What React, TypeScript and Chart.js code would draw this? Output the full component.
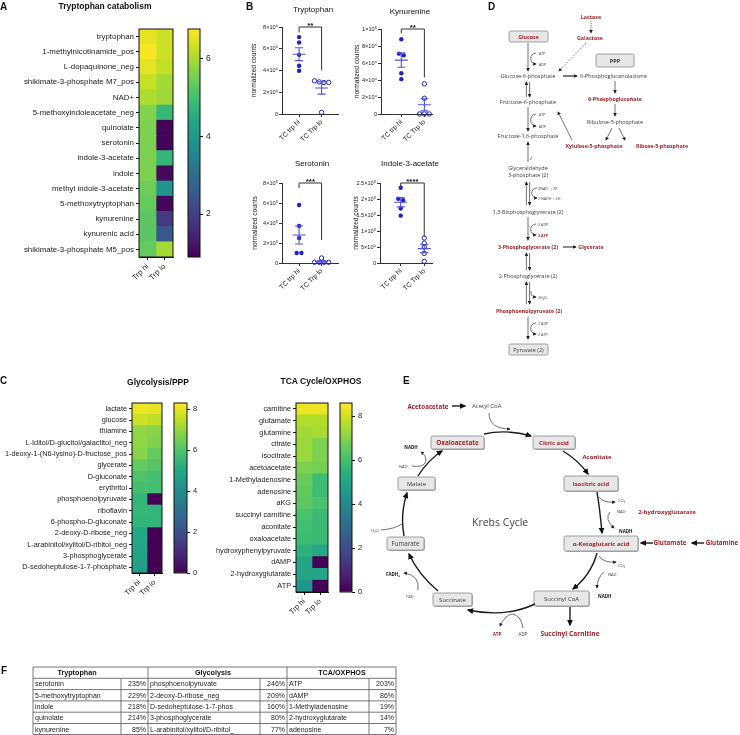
import React, { useEffect, useRef } from 'react';
import { Chart, registerables } from 'chart.js';

Chart.register(...registerables);
const SANS = '"Liberation Sans", Arial, Helvetica, sans-serif';
const DIAG = '"Open Sans", "Noto Sans", "DejaVu Sans", sans-serif';
Chart.defaults.font.family = SANS;
Chart.defaults.color = '#222';

// ---------------- DATA ----------------
const heatGroups = ['Trp hi', 'Trp lo'];

const trpRows = ['tryptophan', '1-methylnicotinamide_pos', 'L-dopaquinone_neg', 'shikimate-3-phosphate M7_pos', 'NAD+', '5-methoxyindoleacetate_neg', 'quinolate', 'serotonin', 'indole-3-acetate', 'indole', 'methyl indole-3-acetate', '5-methoxytryptophan', 'kynurenine', 'kynurenic acid', 'shikimate-3-phosphate M5_pos'];
const trpHi = [6.55, 6.7, 6.5, 6.25, 6.05, 5.65, 5.6, 5.6, 5.6, 5.6, 5.45, 5.35, 5.25, 5.25, 5.35];
const trpLo = [6.3, 6.3, 6.2, 5.95, 5.9, 4.8, 0.95, 0.95, 4.75, 1.05, 3.9, 1.0, 1.9, 2.5, 5.95];
const trpRange = [0.9, 6.75];
const trpBarTicks = [2, 4, 6];

const glyRows = ['lactate', 'glucose', 'thiamine', 'L-Iditol/D-glucitol/galactitol_neg', '1-deoxy-1-(N6-lysino)-D-fructose_pos', 'glycerate', 'D-gluconate', 'erythritol', 'phosphoenolpyruvate', 'riboflavin', '6-phospho-D-gluconate', '2-deoxy-D-ribose_neg', 'L-arabinitol/xylitol/D-ribitol_neg', '3-phosphoglycerate', 'D-sedoheptulose-1-7-phosphate'];
const glyHi = [8.05, 7.7, 6.9, 6.9, 6.8, 6.3, 6.0, 5.8, 5.4, 5.5, 5.4, 5.0, 4.9, 4.8, 4.7];
const glyLo = [8.0, 7.5, 6.8, 6.7, 6.3, 6.1, 5.8, 5.8, 0.05, 5.4, 5.4, 0.0, 0.0, 0.0, 0.0];
const glyRange = [0, 8.3];

const tcaRows = ['carnitine', 'glutamate', 'glutamine', 'citrate', 'isocitrate', 'acetoacetate', '1-Methyladenosine', 'adenosine', 'aKG', 'succinyl carnitine', 'aconitate', 'oxaloacetate', 'hydroxyphenylpyruvate', 'dAMP', '2-hydroxyglutarate', 'ATP'];
const tcaHi = [8.35, 7.6, 7.4, 7.3, 7.3, 6.9, 6.6, 6.5, 6.4, 6.1, 6.0, 5.9, 5.5, 5.0, 5.0, 4.5];
const tcaLo = [8.35, 7.6, 7.5, 6.9, 6.9, 6.8, 5.9, 5.9, 6.1, 5.8, 5.8, 5.8, 5.2, 0.05, 5.1, 0.05];
const tcaRange = [0, 8.6];
const cBarTicks = [0, 2, 4, 6, 8];

const bGroups = ['TC trp hi', 'TC Trp lo'];
const bTitles = ['Tryptophan', 'Kynurenine', 'Serotonin', 'Indole-3-acetate'];
const trpHiCounts = [7.07e6, 6.57e6, 5.44e6, 4.44e6, 3.98e6];
const trpLoCounts = [3.05e6, 2.95e6, 2.9e6, 2.9e6, 0.15e6];
const kynHiCounts = [8.8e4, 7.1e4, 6.9e4, 4.8e4, 4.1e4];
const kynLoCounts = [3.55e4, 1.85e4, 0, 0, 0];
const serHiCounts = [5.8e5, 3.7e5, 2.5e5, 1.0e5, 1.0e5];
const serLoCounts = [0.5e5, 0.07e5, 0.07e5, 0.07e5, 0.07e5];
const iaaHiCounts = [2.35e5, 2.01e5, 1.96e5, 1.7e5, 1.48e5];
const iaaLoCounts = [0.78e5, 0.62e5, 0.5e5, 0.3e5, 0.05e5];
const bHi = [trpHiCounts, kynHiCounts, serHiCounts, iaaHiCounts];
const bLo = [trpLoCounts, kynLoCounts, serLoCounts, iaaLoCounts];
const bYMax = [8e6, 1e5, 8e5, 2.5e5];
const bYStep = [2e6, 2e4, 2e5, 5e4];
const bStars = ['**', '**', '***', '****'];
const bBracketL = [7.5e6, 9.5e4, 7.5e5, 2.4e5];
const bBracketR = [4.05e6, 4.3e4, 2.3e5, 0.81e5];

const tblTrp = ['serotonin', '5-methoxytryptophan', 'indole', 'quinolate', 'kynurenine'];
const tblTrpPct = ['235%', '229%', '218%', '214%', '85%'];
const tblGly = ['phosphoenolpyruvate', '2-deoxy-D-ribose_neg', 'D-sedoheptulose-1-7-phos', '3-phosphoglycerate', 'L-arabinitol/xylitol/D-ribitol_'];
const tblGlyPct = ['246%', '209%', '160%', '80%', '77%'];
const tblTca = ['ATP', 'dAMP', '1-Methyladenosine', '2-hydroxyglutarate', 'adenosine'];
const tblTcaPct = ['203%', '86%', '19%', '14%', '7%'];

// ---------------- helpers ----------------
const RED = '#a3232b';
const DOT = '#2222c2';
const SEMC = '#5252dc';
const VIRIDIS = ['#440154', '#482475', '#414487', '#355f8d', '#2a788e', '#21918c', '#22a884', '#44bf70', '#7ad151', '#bddf26', '#fde725'];

function hex(h: string) {
  return [parseInt(h.slice(1, 3), 16), parseInt(h.slice(3, 5), 16), parseInt(h.slice(5, 7), 16)];
}
function viridis(t: number) {
  const c = Math.max(0, Math.min(1, t)) * 10;
  const i = Math.min(9, Math.floor(c));
  const f = c - i;
  const a = hex(VIRIDIS[i]);
  const b = hex(VIRIDIS[i + 1]);
  const m = a.map((v, k) => Math.round(v + (b[k] - v) * f));
  return `rgb(${m[0]},${m[1]},${m[2]})`;
}
function sciLabel(v: number) {
  if (Math.abs(v) < 1e-9) return '0';
  const e = Math.floor(Math.log10(v) + 1e-9);
  const m = +(v / Math.pow(10, e)).toFixed(2);
  const sup = '⁰¹²³⁴⁵⁶⁷⁸⁹';
  return `${m}×10${String(e).split('').map((d) => sup[+d]).join('')}`;
}

const frame = (lw = 1) => ({
  id: 'frame',
  afterDatasetsDraw(chart: any) {
    const { ctx, chartArea: a } = chart;
    ctx.save();
    ctx.strokeStyle = '#111';
    ctx.lineWidth = lw;
    ctx.strokeRect(a.left, a.top, a.right - a.left, a.bottom - a.top);
    ctx.restore();
  },
});

function heatmapConfig(rows: string[], hi: number[], lo: number[], range: number[], g: any) {
  const col = (v: number) => viridis((v - range[0]) / (range[1] - range[0]));
  return {
    type: 'bar',
    data: {
      labels: rows,
      datasets: [
        { label: heatGroups[0], data: rows.map(() => 1), backgroundColor: hi.map(col) },
        { label: heatGroups[1], data: rows.map(() => 1), backgroundColor: lo.map(col) },
      ],
    },
    options: {
      indexAxis: 'y',
      animation: false,
      responsive: false,
      devicePixelRatio: 1,
      layout: { padding: { left: 0, top: g.padTop, right: g.padRight, bottom: 0 } },
      datasets: { bar: { barPercentage: 1, categoryPercentage: 1, borderWidth: 0 } },
      plugins: { legend: { display: false }, tooltip: { enabled: false } },
      scales: {
        x: {
          stacked: true, min: 0, max: 2,
          afterBuildTicks: (s: any) => { s.ticks = [{ value: 0.5 }, { value: 1.5 }]; },
          ticks: { callback: (v: number) => heatGroups[Math.floor(v)], minRotation: 45, maxRotation: 45, font: { size: g.xFont }, color: '#222', padding: 2 },
          grid: { drawOnChartArea: false, tickLength: 3, color: '#111' },
          border: { color: '#111' },
          afterFit: (s: any) => { s.height = g.xAxisH; },
        },
        y: {
          stacked: true,
          ticks: { font: { size: g.rowFont }, color: '#222', padding: 2, autoSkip: false },
          grid: { drawOnChartArea: false, offset: false, tickLength: 3, color: '#111' },
          border: { color: '#111' },
          afterFit: (s: any) => { s.width = g.yAxisW; },
        },
      },
    },
    plugins: [frame(1)],
  };
}

function colorbarConfig(range: number[], ticks: number[], g: any) {
  return {
    type: 'bar',
    data: {
      labels: [''],
      datasets: [{
        data: [[range[0], range[1]]],
        borderWidth: 0,
        backgroundColor: (c: any) => {
          const chart = c.chart;
          if (!chart.chartArea) return '#888';
          const y = chart.scales.y;
          const gr = chart.ctx.createLinearGradient(0, y.getPixelForValue(range[0]), 0, y.getPixelForValue(range[1]));
          VIRIDIS.forEach((col, i) => gr.addColorStop(i / 10, col));
          return gr;
        },
      }],
    },
    options: {
      animation: false,
      responsive: false,
      devicePixelRatio: 1,
      layout: { padding: { left: g.padLeft, right: g.padRight, top: g.padTop, bottom: g.padBottom } },
      datasets: { bar: { barPercentage: 1, categoryPercentage: 1 } },
      plugins: { legend: { display: false }, tooltip: { enabled: false } },
      scales: {
        x: { display: false },
        y: {
          position: 'right', min: range[0], max: range[1],
          afterBuildTicks: (s: any) => { s.ticks = ticks.map((v) => ({ value: v })); },
          ticks: { font: { size: g.font }, color: '#222', padding: 3 },
          grid: { drawOnChartArea: false, tickLength: 3, color: '#111' },
          border: { display: false },
          afterFit: (s: any) => { s.width = g.axisW; },
        },
      },
    },
    plugins: [frame(1)],
  };
}

function swarm(vals: number[], ymax: number) {
  const idx = vals.map((_, i) => i).sort((a, b) => vals[b] - vals[a]);
  const off = vals.map(() => 0);
  let cl = [idx[0]];
  const flush = () => cl.forEach((k, j) => { off[k] = (j - (cl.length - 1) / 2) * 0.21; });
  for (let j = 1; j < idx.length; j++) {
    if (vals[idx[j - 1]] - vals[idx[j]] < ymax * 0.035) cl.push(idx[j]);
    else { flush(); cl = [idx[j]]; }
  }
  flush();
  return off;
}

const bLayout = [
  { left: 250, top: 0, w: 95, h: 150, yAxisW: 32, padTop: 27, padRight: 7, xAxisH: 36, xMin: -0.76, xMax: 1.73, titlePad: 0 },
  { left: 350, top: 0, w: 90, h: 150, yAxisW: 31, padTop: 29, padRight: 8, xAxisH: 36, xMin: -0.88, xMax: 1.33, titlePad: 3 },
  { left: 250, top: 140, w: 95, h: 155, yAxisW: 32, padTop: 43, padRight: 7, xAxisH: 32, xMin: -0.76, xMax: 1.73, titlePad: 1 },
  { left: 350, top: 140, w: 90, h: 155, yAxisW: 30, padTop: 43, padRight: 8, xAxisH: 32, xMin: -0.88, xMax: 1.33, titlePad: 2 },
];

function statsPlugin(k: number) {
  return {
    id: 'stats',
    afterDatasetsDraw(chart: any) {
      const { ctx, scales: { x, y } } = chart;
      ctx.save();
      ctx.strokeStyle = SEMC;
      ctx.lineWidth = 1.1;
      [bHi[k], bLo[k]].forEach((vals, g) => {
        const n = vals.length;
        const m = vals.reduce((a, b) => a + b, 0) / n;
        const sd = Math.sqrt(vals.reduce((a, b) => a + (b - m) * (b - m), 0) / (n - 1));
        const se = sd / Math.sqrt(n);
        const cx = x.getPixelForValue(g);
        const ym = y.getPixelForValue(m);
        const y1 = y.getPixelForValue(Math.max(0, m - se));
        const y2 = y.getPixelForValue(m + se);
        ctx.beginPath();
        ctx.moveTo(cx - 6.5, ym); ctx.lineTo(cx + 6.5, ym);
        ctx.moveTo(cx, y1); ctx.lineTo(cx, y2);
        ctx.moveTo(cx - 4, y1); ctx.lineTo(cx + 4, y1);
        ctx.moveTo(cx - 4, y2); ctx.lineTo(cx + 4, y2);
        ctx.stroke();
      });
      const xl = x.getPixelForValue(0);
      const xr = x.getPixelForValue(1);
      const yt = y.getPixelForValue(bYMax[k]);
      ctx.strokeStyle = '#333';
      ctx.lineWidth = 1;
      ctx.beginPath();
      ctx.moveTo(xl, y.getPixelForValue(bBracketL[k]));
      ctx.lineTo(xl, yt);
      ctx.lineTo(xr, yt);
      ctx.lineTo(xr, y.getPixelForValue(bBracketR[k]));
      ctx.stroke();
      ctx.fillStyle = '#111';
      ctx.font = `bold 8px ${SANS}`;
      ctx.textAlign = 'center';
      ctx.textBaseline = 'alphabetic';
      ctx.fillText(bStars[k], (xl + xr) / 2, yt + 0.5);
      ctx.restore();
    },
  };
}

function scatterConfig(k: number) {
  const L = bLayout[k];
  const ymax = bYMax[k];
  const datasets = [bHi[k], bLo[k]].map((vals, g) => {
    const off = swarm(vals, ymax);
    return {
      label: bGroups[g],
      data: vals.map((v, i) => ({ x: g + off[i], y: v })),
      pointRadius: 2.2,
      pointHoverRadius: 2.2,
      pointBackgroundColor: g === 0 ? DOT : 'rgba(255,255,255,0)',
      pointBorderColor: DOT,
      pointBorderWidth: g === 0 ? 0 : 1,
      clip: false,
    };
  });
  return {
    type: 'scatter',
    data: { datasets },
    options: {
      animation: false,
      responsive: false,
      devicePixelRatio: 1,
      layout: { padding: { left: 0, top: L.padTop, right: L.padRight, bottom: 0 } },
      plugins: { legend: { display: false }, tooltip: { enabled: false } },
      scales: {
        x: {
          type: 'linear', min: L.xMin, max: L.xMax,
          afterBuildTicks: (s: any) => { s.ticks = [{ value: 0 }, { value: 1 }]; },
          ticks: { callback: (v: number) => bGroups[v], minRotation: 45, maxRotation: 45, font: { size: 6.8 }, color: '#222', padding: 1 },
          grid: { drawOnChartArea: false, tickLength: 3, color: '#333' },
          border: { color: '#333' },
          afterFit: (s: any) => { s.height = L.xAxisH; },
        },
        y: {
          min: 0, max: ymax,
          ticks: { stepSize: bYStep[k], callback: (v: number) => sciLabel(v), font: { size: 5.6 }, color: '#222', padding: 1 },
          grid: { drawOnChartArea: false, tickLength: 3, color: '#333' },
          border: { color: '#333' },
          title: { display: true, text: 'normalized counts', font: { size: 6.6 }, color: '#222', padding: { top: L.titlePad, bottom: 0 } },
          afterFit: (s: any) => { s.width = L.yAxisW; },
        },
      },
    },
    plugins: [statsPlugin(k)],
  };
}

function ChartCanvas({ left, top, width, height, make }: any) {
  const ref = useRef<HTMLCanvasElement>(null);
  useEffect(() => {
    const chart = new Chart(ref.current as HTMLCanvasElement, make());
    return () => chart.destroy();
  }, []);
  return <canvas ref={ref} width={width} height={height} style={{ position: 'absolute', left, top, width, height }} />;
}

// ---------------- SVG overlay ----------------
const Tx = ({ x, y, s = 5.5, w = 400, c = '#3a3a3a', a = 'middle', f = DIAG, children }: any) => (
  <text x={x} y={y} fontSize={s} fontWeight={w} fill={c} textAnchor={a} dominantBaseline="central" fontFamily={f}>{children}</text>
);
const Box = ({ x1, y1, x2, y2, shadow = false }: any) => (
  <g>
    {shadow && <rect x={x1 + 0.9} y={y1 + 0.9} width={x2 - x1} height={y2 - y1} rx={1.8} fill="#b0b0b0" />}
    <rect x={x1} y={y1} width={x2 - x1} height={y2 - y1} rx={1.8} fill="#e7e7e7" stroke="#8a8a8a" strokeWidth={0.8} />
  </g>
);
const thin = { stroke: '#333', strokeWidth: 0.7, fill: 'none', markerEnd: 'url(#hs)' };
const thick = { stroke: '#1a1a1a', strokeWidth: 1.4, fill: 'none', markerEnd: 'url(#hl)' };
const Dbl = ({ x, y1, y2 }: any) => (
  <g>
    <path d={`M${x - 1.6},${y2} L${x - 1.6},${y1}`} {...thin} />
    <path d={`M${x + 1.6},${y1} L${x + 1.6},${y2}`} {...thin} />
  </g>
);
const Side = ({ x, y1, y2 }: any) => (
  <path d={`M${x + 8},${y1} C${x + 1},${y1} ${x + 1},${y2} ${x + 8},${y2}`} {...thin} />
);

function PanelD() {
  const rb = { s: 5.3, w: 700, c: RED };
  const sm = { s: 3.7, a: 'start' };
  return (
    <g>
      <Tx x={591} y={17} {...rb}>Lactose</Tx>
      <path d="M591,21 L591,33" {...thin} strokeDasharray="1,1" />
      <Tx x={590} y={38} {...rb}>Galactose</Tx>
      <Box x1={509} y1={31} x2={548} y2={42} />
      <Tx x={528.5} y={36.7} {...rb}>Glucose</Tx>
      <path d="M528,43 L528,71" {...thin} />
      <Side x={528} y1={53} y2={64} />
      <Tx x={539} y={53} {...sm}>ATP</Tx>
      <Tx x={539} y={64.5} {...sm}>ADP</Tx>
      <Tx x={528} y={76}>Glucose-6-phosphate</Tx>
      <path d="M586,43 L559,71" {...thin} strokeDasharray="1.2,1.2" />
      <path d="M563,76 L577,76" {...thin} strokeWidth={1.3} />
      <Tx x={580} y={76} a="start">6-Phosphogluconolactone</Tx>
      <Box x1={596} y1={54} x2={634} y2={67} />
      <Tx x={615} y={60.7} s={5.5} w={700} c="#333">PPP</Tx>
      <path d="M615,81 L615,93" {...thin} />
      <Tx x={615} y={99} {...rb}>6-Phosphogluconate</Tx>
      <path d="M615,104 L615,116" {...thin} />
      <Tx x={615} y={122}>Ribulose-5-phosphate</Tx>
      <path d="M612,128 L606,140" {...thin} />
      <path d="M619,128 L625,140" {...thin} />
      <Tx x={594} y={146} {...rb}>Xylulose-5-phosphate</Tx>
      <Tx x={662} y={146} {...rb}>Ribose-5-phosphate</Tx>
      <path d="M572,140 L558,112" {...thin} />
      <Dbl x={528} y1={82} y2={97} />
      <Tx x={528} y={102}>Fructose-6-phosphate</Tx>
      <path d="M528,107 L528,131" {...thin} />
      <Side x={528} y1={114} y2={126} />
      <Tx x={539} y={114} {...sm}>ATP</Tx>
      <Tx x={539} y={126} {...sm}>ADP</Tx>
      <Tx x={528} y={136}>Fructose-1,6-phosphate</Tx>
      <path d="M528,162 L528,142" {...thin} />
      <path d="M530,160 L532,157" stroke="#333" strokeWidth={0.6} />
      <Tx x={528} y={168}>Glyceraldehyde</Tx>
      <Tx x={528} y={175}>3-phosphate (2)</Tx>
      <Dbl x={528} y1={182} y2={205} />
      <Side x={529} y1={188} y2={198} />
      <Tx x={538} y={188} {...sm}>2NAD⁺ + 2Pᵢ</Tx>
      <Tx x={538} y={198} {...sm}>2 NADH + 2H⁺</Tx>
      <Tx x={528} y={212}>1,3-Bisphosphoglycerate (2)</Tx>
      <path d="M528,217 L528,240" {...thin} />
      <Side x={528} y1={224} y2={235} />
      <Tx x={538} y={224} {...sm}>2 ADP</Tx>
      <Tx x={538} y={235} {...sm} c={RED} w={700}>2 ATP</Tx>
      <Tx x={528} y={247} {...rb}>3-Phosphoglycerate (2)</Tx>
      <path d="M563,247 L576,247" {...thin} strokeWidth={1.1} />
      <Tx x={591} y={247} {...rb}>Glycerate</Tx>
      <Dbl x={528} y1={253} y2={270} />
      <Tx x={528} y={276}>2-Phosphoglycerate (2)</Tx>
      <Dbl x={528} y1={282} y2={304} />
      <path d="M531,291 C531,295 532,297 536,297" {...thin} />
      <Tx x={538} y={297} {...sm}>2H₂O</Tx>
      <Tx x={529} y={311} {...rb}>Phosphoenolpyruvate (2)</Tx>
      <path d="M528,317 L528,339" {...thin} />
      <Side x={528} y1={323} y2={334} />
      <Tx x={538} y={323} {...sm}>2 ADP</Tx>
      <Tx x={538} y={334} {...sm}>2 ATP</Tx>
      <Box x1={509} y1={344} x2={548} y2={355} />
      <Tx x={528.5} y={349.7}>Pyruvate (2)</Tx>
    </g>
  );
}

function PanelE() {
  const rb = { w: 700, c: RED };
  const sm = { s: 4, a: 'start' };
  return (
    <g>
      <Tx x={428} y={406} s={6.2} {...rb}>Acetoacetate</Tx>
      <path d="M452,406 L465,406" {...thick} />
      <Tx x={472} y={406} s={6} a="start">Acetyl CoA</Tx>
      <path d="M489,413 C489,424 497,429 510,429" {...thin} />
      <Box x1={431} y1={436} x2={484} y2={449} shadow />
      <Tx x={457.5} y={442.7} s={6.4} {...rb}>Oxaloacetate</Tx>
      <path d="M484,434 Q507,429 531,436" {...thick} />
      <Box x1={533} y1={436} x2={575} y2={449} shadow />
      <Tx x={554} y={442.7} s={6} {...rb}>Citric acid</Tx>
      <path d="M563,451 Q578,460 588,474" {...thick} />
      <Tx x={597} y={457} s={6} {...rb}>Aconitate</Tx>
      <Box x1={564} y1={476} x2={618} y2={491} shadow />
      <Tx x={591} y={483.7} s={5.8} {...rb}>Isocitric acid</Tx>
      <path d="M597,492 Q600,510 602,533" {...thick} />
      <path d="M599,497 Q603,503 615,502" {...thin} />
      <Tx x={618} y={500} {...sm}>CO₂</Tx>
      <Tx x={617} y={511} {...sm}>NAD⁺</Tx>
      <path d="M610,512 Q604,519 614,528" {...thin} />
      <Tx x={619} y={531} s={4.5} w={700} c="#111" a="start">NADH</Tx>
      <Tx x={667} y={512} s={6} {...rb}>2-hydroxyglutarate</Tx>
      <Box x1={564} y1={536} x2={638} y2={551} shadow />
      <Tx x={601} y={543.7} s={6} {...rb}>α-Ketoglutaric acid</Tx>
      <path d="M653,543 L641,543" {...thick} />
      <Tx x={670} y={542} s={6.2} {...rb}>Glutamate</Tx>
      <path d="M704,543 L692,543" {...thick} />
      <Tx x={722} y={542} s={6.2} {...rb}>Glutamine</Tx>
      <path d="M597,553 Q591,575 573,589" {...thick} />
      <path d="M599,556 Q603,563 616,562" {...thin} />
      <Tx x={618} y={565} {...sm}>CO₂</Tx>
      <Tx x={608} y={574} {...sm}>NAD⁺</Tx>
      <path d="M604,572 Q597,578 597,588" {...thin} />
      <Tx x={598} y={596} s={4.5} w={700} c="#111" a="start">NADH</Tx>
      <Box x1={534} y1={591} x2={589} y2={606} shadow />
      <Tx x={561.5} y={598.7} s={6}>Succinyl CoA</Tx>
      <path d="M570,607 L570,625" {...thick} />
      <Tx x={570} y={633} s={6.6} {...rb}>Succinyl Carnitine</Tx>
      <path d="M535,604 Q505,618 468,610" {...thick} />
      <path d="M523,628 Q521,615 512,614 Q505,615 500,626" {...thin} />
      <Tx x={497} y={634} s={4.6} {...rb}>ATP</Tx>
      <Tx x={523} y={634} s={4.6}>ADP</Tx>
      <Box x1={433} y1={593} x2={472} y2={606} shadow />
      <Tx x={452.5} y={599.7} s={6}>Succinate</Tx>
      <path d="M438,591 Q418,574 409,554" {...thick} />
      <path d="M418,590 Q420,575 404,573" {...thin} />
      <Tx x={410} y={596} s={4}>FAD</Tx>
      <Tx x={393} y={574} s={4.5} w={700} c="#111">FADH₂</Tx>
      <Box x1={387} y1={537} x2={424} y2={550} shadow />
      <Tx x={405.5} y={543.7} s={6.2}>Fumarate</Tx>
      <path d="M404,536 Q400,514 407,493" {...thick} />
      <path d="M381,530 Q394,529 402,524" stroke="#333" strokeWidth={0.7} fill="none" />
      <Tx x={375} y={530} s={4}>H₂O</Tx>
      <Box x1={398} y1={477} x2={435} y2={490} shadow />
      <Tx x={416.5} y={483.7} s={6}>Malate</Tx>
      <path d="M418,476 Q428,460 442,451" {...thick} />
      <path d="M412,466 Q424,468 426,461 Q426,455 421,452" {...thin} />
      <Tx x={404} y={466} s={4}>NAD⁺</Tx>
      <Tx x={411} y={447} s={4.5} w={700} c="#111">NADH</Tx>
      <Tx x={472} y={522} s={10.5} c="#444" a="start">Krebs Cycle</Tx>
    </g>
  );
}

function PanelF() {
  const cx = [33, 121, 148, 260, 287, 369, 396];
  const ry = [667, 678.3, 689.6, 700.9, 712.2, 723.5, 734.5];
  const names = [tblTrp, tblGly, tblTca];
  const pcts = [tblTrpPct, tblGlyPct, tblTcaPct];
  const heads = ['Tryptophan', 'Glycolysis', 'TCA/OXPHOS'];
  const headX = [77, 213, 342];
  const ln = { stroke: '#555', strokeWidth: 0.8 };
  return (
    <g fontFamily={SANS}>
      {ry.map((y, i) => <line key={'h' + i} x1={cx[0]} x2={cx[6]} y1={y} y2={y} {...ln} />)}
      {[0, 2, 4, 6].map((c) => <line key={'v' + c} x1={cx[c]} x2={cx[c]} y1={ry[0]} y2={ry[6]} {...ln} />)}
      {[1, 3, 5].map((c) => <line key={'s' + c} x1={cx[c]} x2={cx[c]} y1={ry[1]} y2={ry[6]} {...ln} />)}
      {heads.map((h, i) => (
        <text key={h} x={headX[i]} y={(ry[0] + ry[1]) / 2 + 2.5} fontSize={7.2} fontWeight={700} textAnchor="middle" fill="#111">{h}</text>
      ))}
      {names.map((col, g) => col.map((n, r) => (
        <g key={g + '-' + r}>
          <text x={cx[g * 2] + 2} y={(ry[r + 1] + ry[r + 2]) / 2 + 2.5} fontSize={7} fill="#222">{n}</text>
          <text x={cx[g * 2 + 2] - 2} y={(ry[r + 1] + ry[r + 2]) / 2 + 2.5} fontSize={7} fill="#222" textAnchor="end">{pcts[g][r]}</text>
        </g>
      )))}
    </g>
  );
}

function Overlay() {
  const L = (x: number, y: number, t: string) => (
    <text x={x} y={y} fontSize={10} fontWeight={700} fontFamily={SANS} fill="#111">{t}</text>
  );
  const T = (x: number, y: number, t: string, s = 8.5, w = 700) => (
    <text x={x} y={y} fontSize={s} fontWeight={w} fontFamily={SANS} fill="#111" textAnchor="middle">{t}</text>
  );
  return (
    <svg width={740} height={735} style={{ position: 'absolute', left: 0, top: 0, pointerEvents: 'none' }}>
      <defs>
        <marker id="hs" viewBox="0 0 10 10" refX="8" refY="5" markerWidth="3.6" markerHeight="3.6" orient="auto" markerUnits="userSpaceOnUse">
          <path d="M0,0 L10,5 L0,10 z" fill="#222" />
        </marker>
        <marker id="hl" viewBox="0 0 10 10" refX="8" refY="5" markerWidth="6.5" markerHeight="6.5" orient="auto" markerUnits="userSpaceOnUse">
          <path d="M0,0.5 L10,5 L0,9.5 z" fill="#111" />
        </marker>
      </defs>
      {L(0, 10, 'A')}
      {L(246, 10, 'B')}
      {L(0, 384, 'C')}
      {L(488, 10, 'D')}
      {L(403, 384, 'E')}
      {L(1, 674, 'F')}
      {T(105, 9, 'Tryptophan catabolism')}
      {T(158, 385, 'Glycolysis/PPP')}
      {T(321, 384, 'TCA Cycle/OXPHOS')}
      {T(313, 12, bTitles[0], 8, 400)}
      {T(410, 13.5, bTitles[1], 8, 400)}
      {T(312, 166, bTitles[2], 8, 400)}
      {T(410, 166, bTitles[3], 8, 400)}
      <PanelD />
      <PanelE />
      <PanelF />
    </svg>
  );
}

export default function App() {
  return (
    <div style={{ position: 'absolute', left: 0, top: 0, width: 740, height: 735, background: '#fff', overflow: 'hidden' }}>
      <ChartCanvas left={0} top={20} width={182} height={270}
        make={() => heatmapConfig(trpRows, trpHi, trpLo, trpRange, { padTop: 9, padRight: 9, yAxisW: 139, xAxisH: 33, rowFont: 7.9, xFont: 7.8 })} />
      <ChartCanvas left={180} top={20} width={40} height={250}
        make={() => colorbarConfig(trpRange, trpBarTicks, { padLeft: 8, padRight: 2, padTop: 9, padBottom: 13, axisW: 18, font: 8.5 })} />
      <ChartCanvas left={0} top={390} width={168} height={210}
        make={() => heatmapConfig(glyRows, glyHi, glyLo, glyRange, { padTop: 13, padRight: 6, yAxisW: 132, xAxisH: 27, rowFont: 7.3, xFont: 7.4 })} />
      <ChartCanvas left={168} top={390} width={40} height={200}
        make={() => colorbarConfig(glyRange, cBarTicks, { padLeft: 6, padRight: 2, padTop: 13, padBottom: 17, axisW: 19, font: 7.5 })} />
      <ChartCanvas left={200} top={390} width={134} height={240}
        make={() => heatmapConfig(tcaRows, tcaHi, tcaLo, tcaRange, { padTop: 13, padRight: 6, yAxisW: 96, xAxisH: 38, rowFont: 7.3, xFont: 7.4 })} />
      <ChartCanvas left={334} top={390} width={40} height={220}
        make={() => colorbarConfig(tcaRange, cBarTicks, { padLeft: 6, padRight: 2, padTop: 13, padBottom: 18, axisW: 20, font: 7.5 })} />
      {bLayout.map((L, k) => (
        <ChartCanvas key={k} left={L.left} top={L.top} width={L.w} height={L.h} make={() => scatterConfig(k)} />
      ))}
      <Overlay />
    </div>
  );
}
